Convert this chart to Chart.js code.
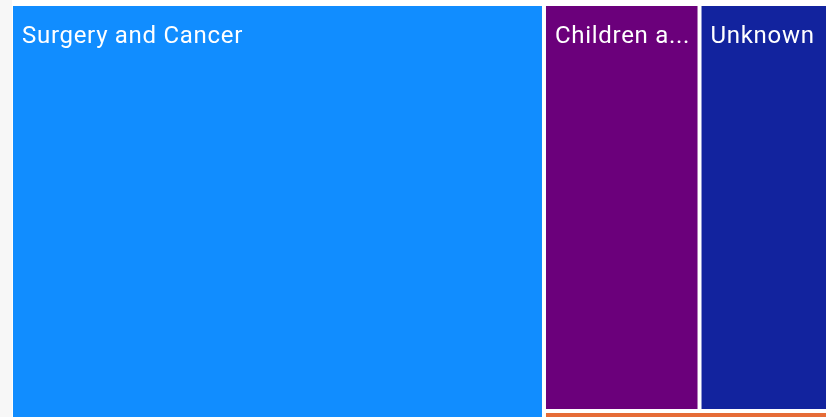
<!DOCTYPE html>
<html>
<head>
<meta charset="utf-8">
<title>Treemap by directorate</title>
<script src="https://cdn.jsdelivr.net/npm/chart.js@4/dist/chart.umd.min.js"></script>
<style>
  html, body {
    margin: 0;
    padding: 0;
    overflow: hidden;
    width: 826px;
    height: 417px;
    background: linear-gradient(to right, #f7f7f7 0, #f7f7f7 12px, #ffffff 12px);
  }
  canvas { display: block; }
</style>
</head>
<body>
<canvas id="chart" width="830" height="500" style="width:830px;height:500px"></canvas>
<script>
// Directorates and their totals
const categories = ['Surgery and Cancer', "Children and Women's Health", 'Unknown', 'Medicine'];
const totals = [2622, 633, 531, 243];
const tileColors = ['#118DFF', '#6B007B', '#12239E', '#E66C37'];

// Squarified layout (golden-ratio target, rows along the shorter side)
function squarify(values, width, height) {
  const ratio = (1 + Math.sqrt(5)) / 2;
  const order = values.map((v, i) => i).sort((a, b) => values[b] - values[a]);
  const tiles = [];
  let x0 = 0, y0 = 0, x1 = width, y1 = height;
  let value = values.reduce((s, v) => s + v, 0);
  let i0 = 0, i1 = 0;
  const n = order.length;
  while (i0 < n) {
    const dx = x1 - x0, dy = y1 - y0;
    let sumValue;
    do { sumValue = values[order[i1++]]; } while (!sumValue && i1 < n);
    let minValue = sumValue, maxValue = sumValue;
    const alpha = Math.max(dy / dx, dx / dy) / (value * ratio);
    let beta = sumValue * sumValue * alpha;
    let minRatio = Math.max(maxValue / beta, beta / minValue);
    for (; i1 < n; ++i1) {
      const v = values[order[i1]];
      sumValue += v;
      if (v < minValue) minValue = v;
      if (v > maxValue) maxValue = v;
      beta = sumValue * sumValue * alpha;
      const newRatio = Math.max(maxValue / beta, beta / minValue);
      if (newRatio > minRatio) { sumValue -= v; break; }
      minRatio = newRatio;
    }
    const row = order.slice(i0, i1);
    if (dx < dy) {
      const ry = value ? y0 + dy * sumValue / value : y1;
      const k = (x1 - x0) / sumValue;
      let cx = x0;
      row.forEach(idx => {
        const w = values[idx] * k;
        tiles[idx] = { x0: cx, y0: y0, x1: cx + w, y1: ry };
        cx += w;
      });
      y0 = ry;
    } else {
      const rx = value ? x0 + dx * sumValue / value : x1;
      const k = (y1 - y0) / sumValue;
      let cy = y0;
      row.forEach(idx => {
        const h = values[idx] * k;
        tiles[idx] = { x0: x0, y0: cy, x1: rx, y1: cy + h };
        cy += h;
      });
      x0 = rx;
    }
    value -= sumValue;
    i0 = i1;
  }
  return tiles;
}

const TILE_GAP = 4;

class TreemapController extends Chart.DatasetController {
  update(mode) {
    const meta = this._cachedMeta;
    this.updateElements(meta.data, 0, meta.data.length, mode);
  }

  updateElements(elements, start, count, mode) {
    const meta = this._cachedMeta;
    const xScale = meta.xScale;
    const yScale = meta.yScale;
    const area = this.chart.chartArea;
    const w = area.right - area.left;
    const h = area.bottom - area.top;
    const values = this.getDataset().data;
    const tiles = squarify(values, w, h);
    const half = TILE_GAP / 2;
    for (let i = start; i < start + count; i++) {
      const t = tiles[i];
      const left = xScale.getPixelForValue(t.x0 / w) + half;
      const right = xScale.getPixelForValue(t.x1 / w) - half;
      const top = yScale.getPixelForValue(t.y0 / h) + half;
      const bottom = yScale.getPixelForValue(t.y1 / h) - half;
      const props = {
        x: (left + right) / 2,
        y: top,
        base: bottom,
        width: Math.max(0, right - left),
        height: Math.max(0, bottom - top),
        horizontal: false,
        inflateAmount: 0,
        borderSkipped: { top: false, bottom: false, left: false, right: false },
        options: this.resolveDataElementOptions(i, mode)
      };
      this.updateElement(elements[i], i, props, mode);
    }
  }

  draw() {
    super.draw();
    const ctx = this.chart.ctx;
    const meta = this._cachedMeta;
    const labels = this.chart.data.labels;
    ctx.save();
    ctx.fillStyle = '#ffffff';
    ctx.font = '24px Roboto';
    ctx.letterSpacing = '0.7px';
    ctx.textBaseline = 'alphabetic';
    ctx.textAlign = 'left';
    meta.data.forEach((el, i) => {
      const left = el.x - el.width / 2;
      const pad = 9;
      const maxW = el.width - pad - 4;
      if (el.height < 40 || maxW <= 0) return;
      let text = labels[i];
      if (ctx.measureText(text).width > maxW) {
        let cut = text;
        while (cut.length > 0 && ctx.measureText(cut.trimEnd() + '...').width > maxW) {
          cut = cut.slice(0, -1);
        }
        text = cut.trimEnd() + '...';
      }
      ctx.fillText(text, left + pad, el.y + 37);
    });
    ctx.restore();
  }
}
TreemapController.id = 'treemap';
TreemapController.defaults = {
  dataElementType: 'bar',
  datasetElementType: false
};
TreemapController.overrides = {
  scales: {
    x: { type: 'linear', display: false },
    y: { type: 'linear', display: false, reverse: true }
  }
};
Chart.register(TreemapController);

new Chart(document.getElementById('chart'), {
  type: 'treemap',
  data: {
    labels: categories,
    datasets: [{
      label: 'Total',
      data: totals,
      backgroundColor: tileColors,
      borderWidth: 0
    }]
  },
  options: {
    responsive: false,
    maintainAspectRatio: false,
    animation: false,
    events: [],
    layout: { padding: { left: 11, top: 4, right: 0, bottom: 4 } },
    scales: {
      x: { type: 'linear', min: 0, max: 1, display: false },
      y: { type: 'linear', min: 0, max: 1, reverse: true, display: false }
    },
    plugins: {
      legend: { display: false },
      tooltip: { enabled: false },
      colors: { enabled: false }
    }
  }
});
</script>
</body>
</html>
